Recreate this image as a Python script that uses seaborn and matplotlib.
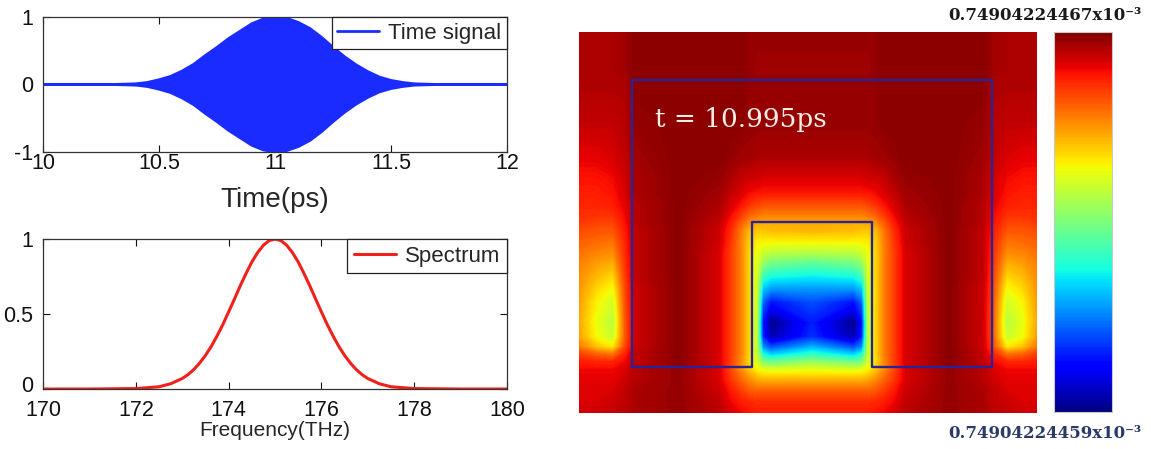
import numpy as np
import matplotlib
matplotlib.use("Agg")
import matplotlib.pyplot as plt
from matplotlib.transforms import ScaledTranslation
import seaborn as sns

# ---------------- data ----------------
# Time signal: envelope (amplitude of the fast carrier) vs time in ps
T_PS = [10.0, 10.3, 10.4, 10.45, 10.5, 10.55, 10.6, 10.65, 10.7, 10.75, 10.8,
        10.85, 10.9, 10.95, 11.0, 11.05, 11.1, 11.15, 11.2, 11.25, 11.3,
        11.35, 11.4, 11.45, 11.5, 11.55, 11.6, 11.7, 12.0]
ENV = [0.0, 0.0, 0.01, 0.03, 0.07, 0.12, 0.2, 0.3, 0.43, 0.55, 0.68,
       0.79, 0.9, 0.97, 1.0, 0.98, 0.92, 0.83, 0.7, 0.55, 0.41,
       0.29, 0.19, 0.11, 0.06, 0.03, 0.01, 0.0, 0.0]

# Spectrum vs frequency in THz
F_THZ = [170, 171, 172, 172.5, 172.75, 173, 173.125, 173.25, 173.375, 173.5,
         173.625, 173.75, 173.875, 174, 174.125, 174.25, 174.375, 174.5,
         174.625, 174.75, 174.875, 175, 175.125, 175.25, 175.375, 175.5,
         175.625, 175.75, 175.875, 176, 176.125, 176.25, 176.375, 176.5,
         176.625, 176.75, 176.875, 177, 177.25, 177.5, 178, 179, 180]
SPEC = [0, 0, 0.003, 0.015, 0.035, 0.07, 0.096, 0.13, 0.173, 0.224,
        0.284, 0.354, 0.43, 0.514, 0.6, 0.688, 0.77, 0.847,
        0.91, 0.959, 0.99, 1.0, 0.99, 0.959, 0.91, 0.847,
        0.77, 0.688, 0.6, 0.514, 0.43, 0.354, 0.284, 0.224,
        0.173, 0.13, 0.096, 0.07, 0.035, 0.015, 0.003, 0, 0]

# Field map: sample positions (map units) and values in % of colour range
FIELD_X = [0, 18, 34, 46, 56, 100, 140, 152, 162, 170, 178, 184, 192, 233,
           275, 283, 289, 297, 305, 315, 327, 370, 404, 414, 428, 444, 458]
FIELD_Y = [0, 40, 48, 90, 125, 145, 160, 172, 182, 190, 198, 208, 220, 232,
           244, 256, 270, 290, 305, 315, 322, 330, 338, 348, 358, 370, 381]
FIELD = [
    [96, 96, 96, 97, 99, 99, 99, 99, 99, 98, 98, 98, 98, 98, 98, 98, 98, 98, 99, 99, 99, 99, 99, 97, 96, 96, 96],
    [96, 96, 96, 97, 99, 99, 99, 99, 99, 98, 97, 97, 97, 97, 97, 97, 97, 98, 99, 99, 99, 99, 99, 97, 96, 96, 96],
    [96, 96, 96, 96, 99, 99, 99, 99, 99, 98, 98, 98, 98, 98, 98, 98, 98, 98, 99, 99, 99, 99, 99, 96, 96, 96, 96],
    [94, 94, 94, 95, 98, 99, 99, 99, 99, 98, 98, 98, 98, 98, 98, 98, 98, 98, 99, 99, 99, 99, 98, 95, 94, 94, 94],
    [91, 91, 92, 94, 97, 99, 99, 98, 97, 97, 96, 96, 96, 96, 96, 96, 96, 97, 97, 98, 99, 99, 97, 94, 92, 91, 91],
    [89, 89, 90, 93, 96, 99, 98, 96, 94, 93, 93, 92, 92, 92, 92, 92, 93, 93, 94, 96, 98, 99, 96, 93, 90, 89, 89],
    [88, 88, 89, 92, 96, 99, 97, 94, 92, 90, 89, 89, 89, 89, 89, 89, 89, 90, 92, 94, 97, 99, 96, 92, 89, 88, 88],
    [87, 87, 88, 91, 95, 99, 96, 92, 89, 86, 84, 83, 83, 83, 83, 83, 84, 86, 89, 92, 96, 99, 95, 91, 88, 87, 87],
    [86, 86, 86, 90, 95, 99, 95, 90, 85, 81, 79, 78, 78, 78, 78, 78, 79, 81, 85, 90, 95, 99, 95, 90, 86, 86, 86],
    [85, 84, 84, 89, 95, 99, 94, 88, 81, 76, 74, 73, 73, 73, 73, 73, 74, 76, 81, 88, 94, 99, 95, 89, 84, 84, 85],
    [83, 82, 82, 88, 94, 99, 93, 86, 78, 71, 70, 70, 71, 72, 71, 70, 70, 71, 78, 86, 93, 99, 94, 88, 82, 82, 83],
    [81, 80, 79, 87, 94, 99, 93, 85, 77, 69, 66, 66, 66, 66, 66, 66, 66, 69, 77, 85, 93, 99, 94, 87, 79, 80, 81],
    [79, 77, 76, 86, 94, 99, 92, 84, 77, 68, 63, 60, 58, 57, 58, 60, 63, 68, 77, 84, 92, 99, 94, 86, 76, 77, 79],
    [77, 74, 72, 85, 94, 99, 92, 84, 77, 68, 61, 52, 48, 45, 48, 52, 61, 68, 77, 84, 92, 99, 94, 85, 72, 74, 77],
    [76, 71, 68, 84, 94, 99, 92, 84, 77, 68, 60, 42, 38, 36, 38, 42, 60, 68, 77, 84, 92, 99, 94, 84, 68, 71, 76],
    [75, 68, 64, 83, 93, 99, 92, 84, 77, 68, 59, 32, 28, 28, 28, 32, 59, 68, 77, 84, 92, 99, 93, 83, 64, 68, 75],
    [74, 65, 60, 82, 93, 99, 92, 84, 77, 68, 58, 22, 14, 20, 14, 22, 58, 68, 77, 84, 92, 99, 93, 82, 60, 65, 74],
    [73, 63, 57, 81, 93, 99, 92, 84, 77, 68, 57, 14, 1, 15, 1, 14, 57, 68, 77, 84, 92, 99, 93, 81, 57, 63, 73],
    [74, 64, 59, 81, 93, 99, 92, 84, 77, 68, 57, 16, 4, 17, 4, 16, 57, 68, 77, 84, 92, 99, 93, 81, 59, 64, 74],
    [78, 70, 66, 83, 93, 99, 92, 84, 77, 68, 57, 26, 20, 30, 20, 26, 57, 68, 77, 84, 92, 99, 93, 83, 66, 70, 78],
    [84, 80, 78, 87, 94, 99, 92, 84, 77, 68, 58, 38, 32, 40, 32, 38, 58, 68, 77, 84, 92, 99, 94, 87, 78, 80, 84],
    [88, 87, 87, 90, 94, 99, 92, 84, 76, 67, 60, 50, 48, 53, 48, 50, 60, 67, 76, 84, 92, 99, 94, 90, 87, 87, 88],
    [90, 90, 90, 92, 95, 98, 92, 83, 76, 70, 65, 63, 62, 63, 62, 63, 65, 70, 76, 83, 92, 98, 95, 92, 90, 90, 90],
    [91, 91, 91, 93, 95, 98, 92, 85, 80, 76, 73, 72, 72, 72, 72, 72, 73, 76, 80, 85, 92, 98, 95, 93, 91, 91, 91],
    [92, 92, 92, 94, 96, 98, 93, 88, 84, 81, 80, 80, 80, 80, 80, 80, 80, 81, 84, 88, 93, 98, 96, 94, 92, 92, 92],
    [92, 92, 93, 94, 96, 98, 94, 90, 88, 87, 86, 86, 86, 86, 86, 86, 86, 87, 88, 90, 94, 98, 96, 94, 93, 92, 92],
    [93, 93, 94, 95, 96, 98, 95, 92, 90, 89, 88, 88, 88, 88, 88, 88, 88, 89, 90, 92, 95, 98, 96, 95, 94, 93, 93],
]
# Structure outline (map units)
OUTLINE_X = [53, 53, 413, 413, 293, 293, 173, 173, 53]
OUTLINE_Y = [335, 48, 48, 335, 335, 190, 190, 335, 335]

TIME_TICKS = [10, 10.5, 11, 11.5, 12]
TIME_TICKLABELS = ["10", "10.5", "11", "11.5", "12"]
AMP_TICKS = [-1, 0, 1]
FREQ_TICKS = [170, 172, 174, 176, 178, 180]
SPEC_TICKS = [0, 0.5, 1]
SPEC_TICKLABELS = ["0", "0.5", "1"]
TIME_LABEL = "t = 10.995ps"
CBAR_MAX = "0.74904224467x10\u207b\u00b3"
CBAR_MIN = "0.74904224459x10\u207b\u00b3"

# ---------------- style ----------------
sns.set_style("ticks")
plt.rcParams["font.family"] = ["Liberation Sans", "DejaVu Sans"]
plt.rcParams["axes.edgecolor"] = "#333333"
plt.rcParams["axes.linewidth"] = 0.9
plt.rcParams["axes.unicode_minus"] = False

BLUE = "#1a2bff"
RED = "#f0201a"

fig = plt.figure(figsize=(11.51, 4.49), dpi=100)

# ---------------- time signal ----------------
ax1 = fig.add_axes([0.0374, 0.6615, 0.4031, 0.3007])
neg_env = [-v for v in ENV]
ax1.fill_between(T_PS, neg_env, ENV, color=BLUE, lw=0)
sns.lineplot(x=T_PS, y=ENV, color=BLUE, lw=2, ax=ax1, label="Time signal")
sns.lineplot(x=T_PS, y=neg_env, color=BLUE, lw=2, ax=ax1)
ax1.set_xlim(10, 12)
ax1.set_ylim(-1, 1)
ax1.set_xticks(TIME_TICKS)
ax1.set_xticklabels(TIME_TICKLABELS)
ax1.set_yticks(AMP_TICKS)
ax1.tick_params(direction="in", length=5, width=0.8, top=True, right=True,
                labelsize=15.5, colors="#111111")
ax1.tick_params(axis="x", pad=1)
ax1.tick_params(axis="y", pad=7)
ax1.set_xlabel("Time(ps)", fontsize=20, labelpad=9)
ax1.set_ylabel("")
leg1 = ax1.legend(loc="upper right", borderaxespad=0, fontsize=16, frameon=True,
                  fancybox=False, framealpha=1, edgecolor="#222222",
                  handlelength=1.9, handletextpad=0.4, borderpad=0.25)
leg1.get_frame().set_linewidth(0.9)

# ---------------- spectrum ----------------
ax2 = fig.add_axes([0.0374, 0.1336, 0.4031, 0.334])
sns.lineplot(x=F_THZ, y=SPEC, color=RED, lw=2.2, ax=ax2, label="Spectrum")
ax2.set_xlim(170, 180)
ax2.set_ylim(0, 1)
ax2.set_xticks(FREQ_TICKS)
ax2.set_yticks(SPEC_TICKS)
ax2.set_yticklabels(SPEC_TICKLABELS)
ax2.tick_params(direction="in", length=5, width=0.8, top=True, right=True,
                labelsize=15.5, colors="#111111")
ax2.tick_params(axis="x", pad=8)
ax2.tick_params(axis="y", pad=7)
zero_lab = ax2.get_yticklabels()[0]
zero_lab.set_transform(zero_lab.get_transform()
                       + ScaledTranslation(0, 3.5 / 72, fig.dpi_scale_trans))
ax2.set_xlabel("Frequency(THz)", fontsize=15, labelpad=0)
ax2.set_ylabel("")
leg2 = ax2.legend(loc="upper right", borderaxespad=0, fontsize=16, frameon=True,
                  fancybox=False, framealpha=1, edgecolor="#222222",
                  handlelength=1.9, handletextpad=0.4, borderpad=0.3)
leg2.get_frame().set_linewidth(0.9)

# ---------------- field map ----------------
ax3 = fig.add_axes([0.503, 0.0802, 0.3979, 0.8486])
cf = ax3.contourf(FIELD_X, FIELD_Y, np.array(FIELD, dtype=float),
                  levels=np.linspace(0, 100, 201), cmap="jet", vmin=0, vmax=100)
ax3.plot(OUTLINE_X, OUTLINE_Y, color="#27249a", lw=1.7)
ax3.set_xlim(0, 458)
ax3.set_ylim(381, 0)
ax3.axis("off")
ax3.text(76, 88, TIME_LABEL, color="#f6eee6", fontsize=19,
         family=["DejaVu Serif"], ha="left", va="center")

cax = fig.add_axes([0.9157, 0.0824, 0.0504, 0.8463])
cbar = fig.colorbar(cf, cax=cax, ticks=[])
cbar.outline.set_edgecolor("#c8c8c8")
cbar.outline.set_linewidth(0.8)

fig.text(0.908, 1 - 15 / 449, CBAR_MAX, ha="center", va="center", fontsize=12,
         fontweight="bold", family=["DejaVu Serif", "DejaVu Sans"], color="#1a1a1a")
fig.text(0.908, 1 - 433 / 449, CBAR_MIN, ha="center", va="center", fontsize=12,
         fontweight="bold", family=["DejaVu Serif", "DejaVu Sans"], color="#2b3a67")

fig.savefig("out.png", dpi=100)
